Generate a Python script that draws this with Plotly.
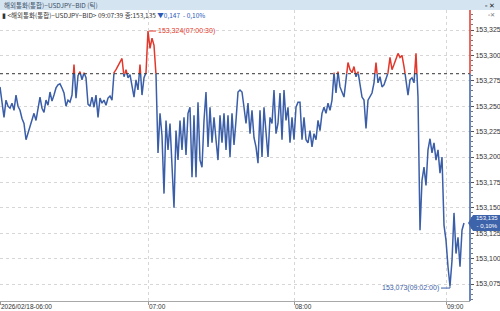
import plotly.graph_objects as go

# ---------------- data (tick chart) ----------------
prices = [
    153.269, 153.251, 153.239, 153.256, 153.250, 153.248, 153.253, 153.246, 153.261, 153.250,
    153.246, 153.238, 153.233, 153.217, 153.224, 153.229, 153.238, 153.243, 153.236, 153.246,
    153.259, 153.248, 153.244, 153.256, 153.251, 153.264, 153.255, 153.261, 153.268, 153.271,
    153.272, 153.268, 153.263, 153.250, 153.256, 153.254, 153.261, 153.291, 153.258, 153.280,
    153.284, 153.276, 153.283, 153.278, 153.252, 153.250, 153.259, 153.249, 153.261, 153.239,
    153.258, 153.253, 153.256, 153.251, 153.258, 153.260, 153.256, 153.283, 153.286, 153.290,
    153.293, 153.297, 153.279, 153.286, 153.278, 153.281, 153.269, 153.259, 153.276, 153.266,
    153.291, 153.261, 153.278, 153.283, 153.324, 153.307, 153.317, 153.310, 153.281, 153.204,
    153.243, 153.221, 153.164, 153.236, 153.207, 153.233, 153.197, 153.150, 153.226, 153.197,
    153.236, 153.207, 153.239, 153.202, 153.243, 153.249, 153.180, 153.241, 153.180, 153.254,
    153.197, 153.190, 153.236, 153.264, 153.210, 153.249, 153.214, 153.239, 153.217, 153.197,
    153.241, 153.214, 153.243, 153.207, 153.241, 153.200, 153.243, 153.212, 153.236, 153.264,
    153.266, 153.264, 153.249, 153.233, 153.253, 153.223, 153.246, 153.219, 153.210, 153.194,
    153.246, 153.200, 153.249, 153.221, 153.200, 153.239, 153.233, 153.266, 153.223, 153.233,
    153.263, 153.217, 153.266, 153.236, 153.249, 153.214, 153.239, 153.217, 153.249, 153.254,
    153.254, 153.217, 153.239, 153.217, 153.214, 153.226, 153.210, 153.223, 153.217, 153.236,
    153.226, 153.243, 153.249, 153.243, 153.253, 153.246, 153.256, 153.283, 153.263, 153.284,
    153.269, 153.264, 153.259, 153.276, 153.293, 153.286, 153.283, 153.289, 153.279, 153.284,
    153.271, 153.259, 153.256, 153.228, 153.256, 153.259, 153.263, 153.273, 153.293, 153.273,
    153.279, 153.269, 153.271, 153.276, 153.283, 153.298, 153.286, 153.291, 153.296, 153.302,
    153.298, 153.300, 153.289, 153.276, 153.261, 153.276, 153.278, 153.273, 153.302, 153.259,
    153.128, 153.177, 153.190, 153.172, 153.207, 153.218, 153.204, 153.214, 153.197, 153.207,
    153.184, 153.200, 153.133, 153.118, 153.092, 153.073, 153.098, 153.145, 153.105, 153.121,
    153.092, 153.128, 153.135,
]
prev_close = 153.282
last_time = "09:07:39"
max_time = "07:00:30"
min_time = "09:02:00"
title_text = "해외통화(통합)−USDJPY−BID (틱)"
series_name = "<해외통화(통합)−USDJPY−BID>"

x_tick_idx = [0, 74, 147, 223]
x_tick_text = ["2026/02/18-06:00", "07:00", "08:00", "09:00"]
y_ticks = [153.075, 153.100, 153.125, 153.150, 153.175, 153.200,
           153.225, 153.250, 153.275, 153.300, 153.325]

# ---------------- styles / layout constants ----------------
W, H = 500, 311
ML, MR, MT, MB = 0, 30, 10, 10
PW, PH = W - ML - MR, H - MT - MB
X_RANGE = [0, 235]
Y_RANGE = [153.0583, 153.3447]
BLUE = "#3b5ea8"
RED = "#e2372b"
FONT = "Liberation Sans, Arial, sans-serif"
KFONT = "Noto Sans CJK KR, Liberation Sans, sans-serif"


def fmt(v, nd=3):
    return f"{v:.{nd}f}".replace(".", ",")


# split series into runs above / below previous close
xs = list(range(len(prices)))
up_x, up_y, dn_x, dn_y = [], [], [], []


def flush(is_up, rx, ry):
    if is_up:
        up_x.extend(rx + [None]); up_y.extend(ry + [None])
    else:
        dn_x.extend(rx + [None]); dn_y.extend(ry + [None])


cur = prices[0] >= prev_close
rx, ry = [xs[0]], [prices[0]]
for i in range(1, len(prices)):
    u = prices[i] >= prev_close
    if u != cur:
        p0, p1 = prices[i - 1], prices[i]
        xc = xs[i - 1] + (prev_close - p0) / (p1 - p0) * (xs[i] - xs[i - 1])
        rx.append(xc); ry.append(prev_close)
        flush(cur, rx, ry)
        rx, ry = [xc], [prev_close]
        cur = u
    rx.append(xs[i]); ry.append(prices[i])
flush(cur, rx, ry)

fig = go.Figure()
fig.add_trace(go.Scatter(x=dn_x, y=dn_y, mode="lines",
                         line=dict(color=BLUE, width=1.5), hoverinfo="skip"))
fig.add_trace(go.Scatter(x=up_x, y=up_y, mode="lines",
                         line=dict(color=RED, width=1.5), hoverinfo="skip"))

last = prices[-1]
chg = last - prev_close
pct = chg / prev_close * 100
imax = max(range(len(prices)), key=lambda i: prices[i])
imin = min(range(len(prices)), key=lambda i: prices[i])

shapes = [
    # header bar
    dict(type="rect", xref="paper", yref="paper", x0=-0.01, x1=W / PW + 0.01,
         y0=1, y1=1 + MT / PH, fillcolor="#d5e4f1", line=dict(width=0), layer="above"),
    # previous close line
    dict(type="line", xref="paper", yref="y", x0=0, x1=1, y0=prev_close, y1=prev_close,
         line=dict(color="#333333", width=1, dash="dot")),
    # right axis line: red above, blue below
    dict(type="line", xref="paper", yref="y", x0=1, x1=1, y0=prev_close, y1=Y_RANGE[1],
         line=dict(color=RED, width=1.5)),
    dict(type="line", xref="paper", yref="y", x0=1, x1=1, y0=Y_RANGE[0], y1=prev_close,
         line=dict(color=BLUE, width=1.5)),
    # max leader
    dict(type="line", xref="x", yref="y", xsizemode="pixel", xanchor=imax,
         x0=1, x1=8, y0=prices[imax], y1=prices[imax], line=dict(color=RED, width=1)),
    # min leader
    dict(type="path", xref="x", yref="y", xsizemode="pixel", ysizemode="pixel",
         xanchor=imin, yanchor=prices[imin], path="M-9,-2 L0,-2 L0,0",
         line=dict(color=BLUE, width=1)),
    # current price box
    dict(type="path", xref="paper", yref="y", xsizemode="pixel", ysizemode="pixel",
         xanchor=1, yanchor=last, path="M-2,0 L3,8 L30,8 L30,-8 L3,-8 Z",
         fillcolor="#3d63ab", line=dict(width=0), layer="above"),
]

annotations = [
    dict(xref="paper", yref="paper", x=2 / PW, y=1 + (MT / 2) / PH, xanchor="left",
         yanchor="middle", showarrow=False, text=title_text,
         font=dict(family=KFONT, size=6.5, color="#3b4f66")),
    dict(xref="paper", yref="paper", x=497 / PW, y=1 + (MT / 2) / PH, xanchor="right",
         yanchor="middle", showarrow=False, text="▫ ✕",
         font=dict(family=FONT, size=7, color="#222222")),
    dict(xref="paper", yref="paper", x=497 / PW, y=1 - 5 / PH, xanchor="right",
         yanchor="middle", showarrow=False, text="▫✕",
         font=dict(family=FONT, size=6, color="#777777")),
    dict(xref="paper", yref="paper", x=0, y=1 - 5 / PH, xanchor="left",
         yanchor="middle", showarrow=False,
         text=(f"▮ {series_name} {last_time} 종:{fmt(last)} "
               f"<span style='color:#2c58b8'>▼{fmt(abs(chg))}  - {fmt(abs(pct), 2)}%</span>"),
         font=dict(family=KFONT, size=6.5, color="#333333")),
    dict(xref="x", yref="y", x=imax, y=prices[imax], xanchor="left", yanchor="middle",
         xshift=8, showarrow=False, text=f"{fmt(prices[imax])}({max_time})",
         font=dict(family=FONT, size=7, color=RED)),
    dict(xref="x", yref="y", x=imin, y=prices[imin], xanchor="right", yanchor="middle",
         xshift=-9, yshift=-2, showarrow=False, text=f"{fmt(prices[imin])}({min_time})",
         font=dict(family=FONT, size=7, color=BLUE)),
    dict(xref="paper", yref="y", x=1 + 16.5 / PW, y=last, xanchor="center", yanchor="middle",
         yshift=1, showarrow=False, text=f"{fmt(last)}<br>- {fmt(abs(pct), 2)}%",
         font=dict(family=FONT, size=6, color="white")),
]
for xi, tt in zip(x_tick_idx, x_tick_text):
    annotations.append(dict(xref="x", yref="paper", x=xi, y=-5 / PH, xanchor="left",
                            yanchor="middle", xshift=-1, showarrow=False, text=tt,
                            font=dict(family=FONT, size=6.5, color="#333333")))

fig.update_layout(
    width=W, height=H, margin=dict(l=ML, r=MR, t=MT, b=MB, pad=0),
    paper_bgcolor="white", plot_bgcolor="white", showlegend=False,
    separators=",.",
    xaxis=dict(range=X_RANGE, tickmode="array", tickvals=x_tick_idx, showticklabels=False,
               ticks="outside", ticklen=3, tickcolor="#999999",
               showgrid=True, gridcolor="#d6d6d6", griddash="dot", gridwidth=1,
               showline=True, linecolor="#a8a8a8", linewidth=1, zeroline=False,
               fixedrange=True),
    yaxis=dict(range=Y_RANGE, side="right", tickmode="array", tickvals=y_ticks,
               tickformat=".3f", ticks="outside", ticklen=3, tickcolor="#555555",
               tickfont=dict(family=FONT, size=7, color="#333333"),
               minor=dict(ticks="outside", ticklen=2, tickcolor="#777777",
                          tick0=y_ticks[0], dtick=0.005, showgrid=False),
               showgrid=True, gridcolor="#d6d6d6", griddash="dot", gridwidth=1,
               showline=False, zeroline=False, fixedrange=True),
    shapes=shapes, annotations=annotations,
)

fig.write_html("out.html", config={"displayModeBar": False})
